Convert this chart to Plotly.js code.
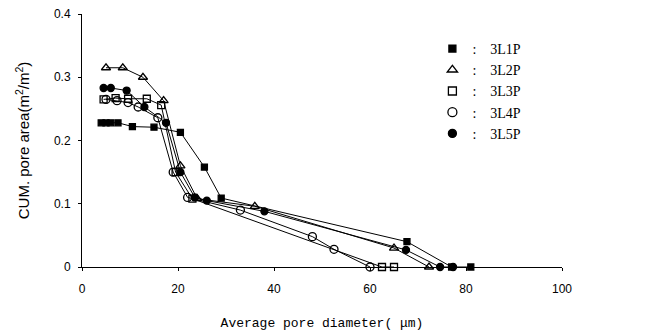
<!DOCTYPE html>
<html>
<head>
<meta charset="utf-8">
<script src="https://cdn.plot.ly/plotly-3.0.1.min.js"></script>
<style>html,body{margin:0;padding:0;background:#fff;}#chart{width:653px;height:333px;}</style>
</head>
<body>
<div id="chart"></div>
<script>
// Series names
const seriesNames = ["3L1P", "3L2P", "3L3P", "3L4P", "3L5P"];

// 3L1P (filled square)
const x3L1P = [4, 5, 6, 7.5, 10.5, 15, 20.5, 25.5, 29, 67.7, 77, 81];
const y3L1P = [0.228, 0.228, 0.228, 0.228, 0.222, 0.221, 0.213, 0.158, 0.109, 0.04, 0, 0];

// 3L2P (open triangle)
const x3L2P = [5, 8.5, 12.7, 17, 20.5, 24, 36, 65, 72.3];
const y3L2P = [0.315, 0.315, 0.3, 0.263, 0.16, 0.108, 0.096, 0.03, 0];

// 3L3P (open square)
const x3L3P = [4.5, 7, 9.6, 13.5, 16.5, 19.5, 23, 62.5, 65];
const y3L3P = [0.265, 0.267, 0.266, 0.266, 0.256, 0.15, 0.108, 0, 0];

// 3L4P (open circle)
const x3L4P = [5, 7.3, 9.6, 11.7, 15.8, 19, 22, 33, 48, 52.5, 60];
const y3L4P = [0.265, 0.263, 0.26, 0.253, 0.236, 0.15, 0.11, 0.09, 0.048, 0.028, 0];

// 3L5P (filled circle)
const x3L5P = [4.5, 6, 9.3, 13, 17.5, 20.5, 23.5, 26, 38, 67.5, 74.6, 77.3];
const y3L5P = [0.283, 0.283, 0.279, 0.253, 0.228, 0.15, 0.11, 0.105, 0.088, 0.027, 0, 0];

const xs = [x3L1P, x3L2P, x3L3P, x3L4P, x3L5P];
const ys = [y3L1P, y3L2P, y3L3P, y3L4P, y3L5P];
const symbols = ["square", "triangle-up-open", "square-open", "circle-open", "circle"];
const sizes = [6, 8, 7, 8, 7];

const traces = [];
for (let i = 0; i < seriesNames.length; i++) {
  traces.push({
    x: xs[i], y: ys[i], type: "scatter", mode: "lines+markers",
    showlegend: false, cliponaxis: false,
    line: {color: "#000", width: 1},
    marker: {symbol: symbols[i], size: sizes[i], color: "#000", line: {color: "#000", width: 1.3}}
  });
}
for (let i = 0; i < seriesNames.length; i++) {
  traces.push({
    x: [null], y: [null], type: "scatter", mode: "markers",
    name: ":\u00a0\u00a0\u00a0\u00a0" + seriesNames[i], legendgroup: "g" + i,
    marker: {symbol: symbols[i], size: sizes[i] + 1, color: "#000", line: {color: "#000", width: 1.3}}
  });
}

const layout = {
  width: 653, height: 333,
  margin: {l: 82, r: 91, t: 14, b: 66},
  paper_bgcolor: "#fff", plot_bgcolor: "#fff",
  showlegend: true,
  legend: {
    x: 0.73, y: 0.925, xanchor: "left", yanchor: "top",
    font: {family: "Liberation Serif", size: 14, color: "#000"},
    tracegroupgap: 0, bgcolor: "rgba(0,0,0,0)"
  },
  xaxis: {
    range: [0, 100], dtick: 20, tick0: 0,
    showgrid: false, zeroline: false,
    showline: true, linecolor: "#000", linewidth: 1,
    ticks: "outside", ticklen: 3, tickcolor: "#000",
    ticklabelstandoff: 8,
    tickfont: {family: "Liberation Sans", size: 12, color: "#000"},
    title: {text: "Average pore diameter( \u03bcm)", font: {family: "Liberation Mono", size: 13, color: "#000"}, standoff: 22}
  },
  yaxis: {
    range: [0, 0.4], dtick: 0.1, tick0: 0,
    showgrid: false, zeroline: false,
    showline: true, linecolor: "#000", linewidth: 1,
    ticks: "outside", ticklen: 3, tickcolor: "#000",
    ticklabelstandoff: 5,
    tickfont: {family: "Liberation Sans", size: 12, color: "#000"},
    title: {text: "CUM. pore area(m<sup>2</sup>/m<sup>2</sup>)", font: {family: "Liberation Sans", size: 15, color: "#000"}, standoff: 20}
  }
};

Plotly.newPlot("chart", traces, layout, {displayModeBar: false, staticPlot: true});
</script>
</body>
</html>
